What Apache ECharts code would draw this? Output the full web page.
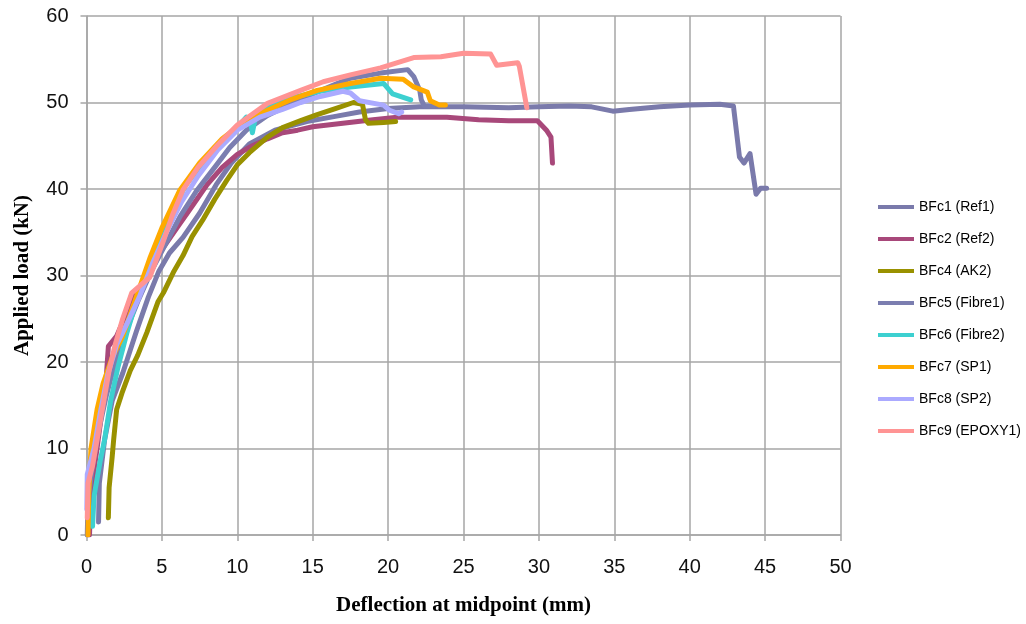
<!DOCTYPE html>
<html>
<head>
<meta charset="utf-8">
<script src="https://cdn.jsdelivr.net/npm/echarts@6/dist/echarts.min.js"></script>
<style>
  html, body { margin: 0; padding: 0; background: #fff; }
  #main { width: 1026px; height: 624px; }
</style>
</head>
<body>
<div id="main"></div>
<script>
// load-deflection curves, [deflection mm, load kN]
var seriesNames = ['BFc1 (Ref1)', 'BFc2 (Ref2)', 'BFc4 (AK2)', 'BFc5 (Fibre1)', 'BFc6 (Fibre2)', 'BFc7 (SP1)', 'BFc8 (SP2)', 'BFc9 (EPOXY1)'];
var seriesColors = ['#7a7aab', '#a8487a', '#999100', '#7b7eb0', '#3dd0d0', '#ffaa00', '#abaaff', '#ff9494'];

var ref1 = [[0.8,1.5],[0.85,6],[1.2,11],[1.7,15.5],[2.4,18.7],[3.3,23.5],[4.1,27.5],[4.8,30.5],[5.5,32.6],[6.4,34.4],[7.5,37.2],[8.6,40.5],[9.6,43],[10.8,45.2],[12.5,46.8],[14.6,47.8],[16.5,48.4],[18.1,48.9],[20,49.3],[22.1,49.5],[25,49.5],[28,49.4],[30,49.5],[32,49.6],[33.5,49.5],[34.9,49.0],[36,49.2],[38,49.5],[40,49.7],[42,49.8],[42.9,49.6],[43.3,43.7],[43.6,43.0],[44.0,44.1],[44.4,39.4],[44.7,40.1],[45.1,40.1]];
var ref2 = [[0.2,0],[0.3,5],[0.7,10],[1.0,14],[1.3,18],[1.45,21.8],[2.0,23],[2.5,25],[3,27],[3.5,28.5],[4,30],[5,33],[6,35.5],[7,38],[8,40.5],[9,42.5],[10,44],[11,45],[12,45.8],[13,46.5],[14,46.8],[15,47.2],[16,47.4],[17,47.6],[18,47.8],[19,48.0],[20.6,48.3],[22,48.3],[23.9,48.3],[26,48.0],[28,47.9],[29.9,47.9],[30.5,46.8],[30.8,46.0],[30.9,43.0]];
var ak2 = [[1.45,2],[1.5,5.5],[1.7,9],[1.8,11],[2.0,14.5],[2.35,16.4],[2.9,19],[3.4,20.8],[4.0,23.4],[4.75,27],[5.1,28],[5.8,30.5],[6.4,32.3],[7.0,34.5],[7.7,36.4],[8.5,38.8],[9.3,41],[10.0,42.8],[10.8,44.2],[12,46],[13,47.1],[14.2,47.9],[15.3,48.6],[16.5,49.3],[17.7,50.0],[18.3,49.8],[18.5,48],[18.7,47.6],[19.7,47.7],[20.5,47.8]];
var fibre1 = [[0.05,0],[0.1,4],[0.4,8],[0.8,12],[1.3,16],[1.9,20],[2.6,23.5],[3.4,27],[4.3,30.5],[5.2,33.5],[6.2,36.8],[7.3,39.8],[8.5,42.5],[9.5,44.8],[10.6,46.8],[12,48.5],[13.5,49.8],[15,51],[16.5,52.1],[17.5,52.8],[19.5,53.4],[21.3,53.8],[21.7,53.0],[22.1,51.4],[22.2,50.3],[22.4,49.6],[23,49.6]];
var fibre2 = [[0.4,1],[0.5,4.5],[0.9,8.5],[1.2,11],[1.6,15.5],[2.1,19.5],[2.7,23.5],[3.3,27],[4.0,30.5],[4.8,34],[5.7,37.5],[6.6,40.5],[7.7,43],[9.3,45.7],[10.6,48.3],[10.9,47.5],[11.0,46.5],[11.2,48.3],[12,49.5],[13.5,50.5],[15.5,51.3],[17.5,51.8],[19.7,52.2],[20.3,51],[21.5,50.3]];
var sp1 = [[0.1,0],[0.15,5],[0.3,10],[0.7,14.5],[1.1,17.5],[1.7,20.5],[2.4,23],[3.0,26],[3.6,29],[4.2,32],[5.0,35.5],[6.2,39.9],[7.5,43],[9,45.8],[10.5,47.8],[12,49.1],[13.5,50.3],[15.3,51.4],[17.5,52.2],[19.5,52.8],[21,52.7],[21.7,51.8],[22.6,51.2],[22.8,50.2],[23.4,49.7],[23.8,49.7]];
var sp2 = [[0.02,3],[0.05,7],[0.5,10],[0.9,14],[1.4,18.5],[2.0,22],[2.7,24.5],[3.5,27.5],[4.4,31.5],[5.3,35],[6.3,38.5],[7.4,41.5],[8.7,44.5],[10,46.8],[11.5,48.3],[13,49.2],[14.2,50],[15.5,50.7],[17.0,51.3],[17.5,51.1],[18.1,50.2],[19.7,49.7],[20.1,49.1],[20.7,48.7],[20.9,48.9]];
var epoxy1 = [[0.05,2],[0.1,6],[0.4,8],[0.6,10],[0.9,13],[1.2,16],[1.5,19],[1.9,22],[2.4,25],[3.0,28],[4.2,29.8],[5.0,33.5],[5.7,37],[6.4,39.9],[7.4,42.5],[8.6,44.9],[10,47.4],[12,49.9],[14.2,51.4],[15.7,52.4],[17.5,53.2],[19.5,54.0],[21.7,55.2],[23.5,55.3],[25,55.7],[26.8,55.6],[27.2,54.3],[28.6,54.6],[28.7,54.2],[29.2,49.4]];

var curves = [ref1, ref2, ak2, fibre1, fibre2, sp1, sp2, epoxy1];

var gridColor = '#a6a6a6';
var chart = echarts.init(document.getElementById('main'));

var series = [];
for (var i = 0; i < curves.length; i++) {
    series.push({
        name: seriesNames[i],
        type: 'line',
        data: curves[i],
        showSymbol: false,
        symbol: 'none',
        color: seriesColors[i],
        lineStyle: { width: 5, color: seriesColors[i], join: 'round', cap: 'round' }
    });
}

var option = {
    animation: false,
    backgroundColor: '#fff',
    grid: { left: 86.5, right: 185.5, top: 16, bottom: 89 },
    legend: {
        orient: 'vertical',
        left: 878,
        top: 199,
        padding: 0,
        icon: 'path://M0,0 L36,0 L36,4 L0,4 Z',
        itemWidth: 36,
        itemHeight: 4,
        itemGap: 16,
        textStyle: { fontFamily: 'Liberation Sans', fontSize: 14, lineHeight: 16, color: '#000' },
        data: seriesNames
    },
    xAxis: {
        type: 'value',
        min: 0, max: 50, interval: 5,
        name: 'Deflection at midpoint (mm)',
        nameLocation: 'middle',
        nameGap: 60,
        nameTextStyle: { fontFamily: 'Liberation Serif', fontWeight: 'bold', fontSize: 21, color: '#000' },
        axisLine: { lineStyle: { color: gridColor, width: 1.5 } },
        axisTick: { show: true, length: 6, lineStyle: { color: gridColor, width: 1.5 } },
        axisLabel: { fontFamily: 'Liberation Sans', fontSize: 20, color: '#111', margin: 22 },
        splitLine: { show: true, lineStyle: { color: gridColor, width: 1.5 } }
    },
    yAxis: {
        type: 'value',
        min: 0, max: 60, interval: 10,
        name: 'Applied load (kN)',
        nameLocation: 'middle',
        nameGap: 53,
        nameTextStyle: { fontFamily: 'Liberation Serif', fontWeight: 'bold', fontSize: 21, color: '#000' },
        axisLine: { show: true, lineStyle: { color: gridColor, width: 1.5 } },
        axisTick: { show: true, length: 6, lineStyle: { color: gridColor, width: 1.5 } },
        axisLabel: { fontFamily: 'Liberation Sans', fontSize: 20, color: '#111', margin: 18 },
        splitLine: { show: true, lineStyle: { color: gridColor, width: 1.5 } }
    },
    series: series
};

chart.setOption(option);
</script>
</body>
</html>
